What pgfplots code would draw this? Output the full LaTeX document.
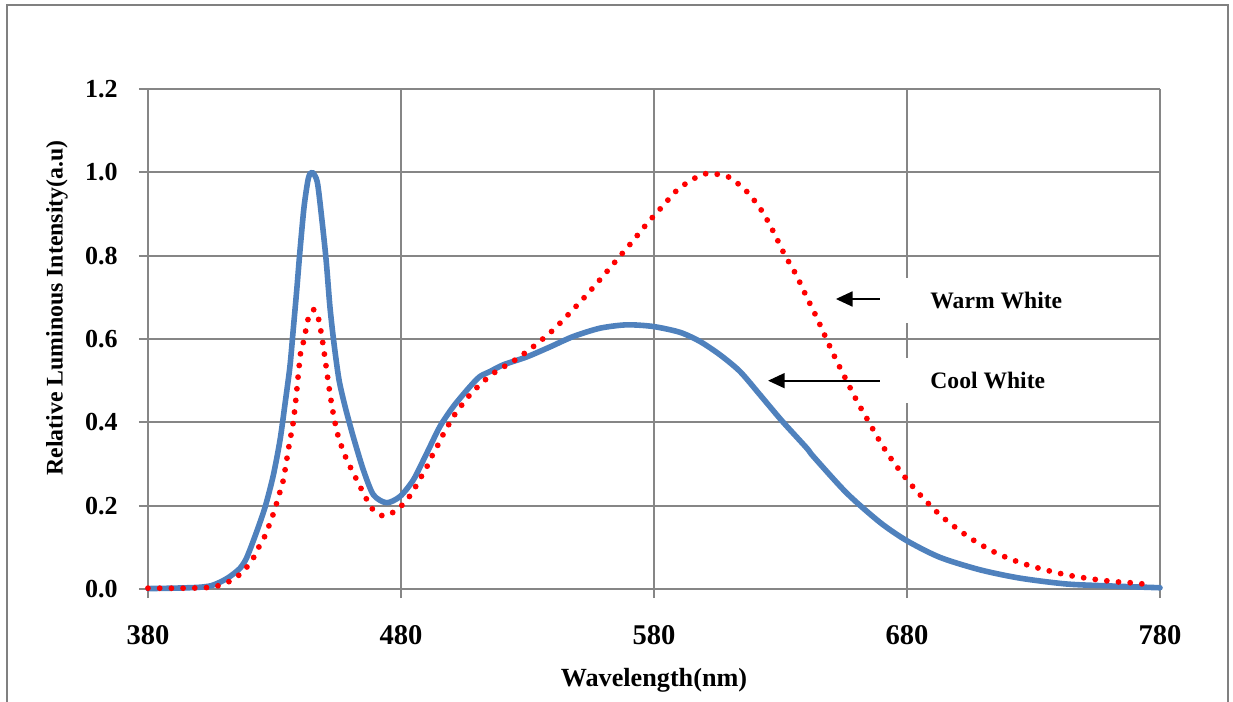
\documentclass[border=0pt]{standalone}
\usepackage{fontspec}
\setmainfont{Liberation Serif}
\usepackage{pgfplots}
\pgfplotsset{compat=1.18}
\usetikzlibrary{arrows.meta}

\definecolor{coolblue}{RGB}{79,129,189}
\definecolor{warmred}{RGB}{255,0,0}
\definecolor{gridgray}{RGB}{134,134,134}
\definecolor{framegray}{RGB}{128,128,128}

\begin{document}
\begin{tikzpicture}
% page = 1233 x 702 px at 0.5pt per px, origin at the plot's lower left corner
\useasboundingbox (-74pt,-56.5pt) rectangle (542.5pt,294.5pt);
\draw[framegray, line width=1pt] (-70.5pt,-80pt) -- (-70.5pt,292pt) -- (540pt,292pt) -- (540pt,-80pt);
\begin{axis}[
    at={(0,0)}, anchor=south west,
    scale only axis,
    width=506pt, height=250pt,
    xmin=380, xmax=780, ymin=0, ymax=1.2,
    xtick={380,480,580,680,780},
    ytick={0,0.2,0.4,0.6,0.8,1.0,1.2},
    axis lines*=left,
    axis line style={draw=gridgray, line width=0.9pt},
    grid=major,
    major grid style={draw=gridgray, line width=0.9pt},
    tick align=outside,
    major tick length=4.5pt,
    tick style={draw=gridgray, line width=0.9pt},
    /pgf/number format/assume math mode=true,
    x tick label style={font=\bfseries\fontsize{14.3}{16}\selectfont, anchor=north, inner sep=0pt, yshift=-13.5pt,
        /pgf/number format/1000 sep={}},
    y tick label style={font=\bfseries\fontsize{13}{15}\selectfont, anchor=east, inner sep=0pt, xshift=-10.5pt},
    yticklabel={\pgfmathprintnumber[fixed,fixed zerofill,precision=1]{\tick}},
    xlabel={Wavelength(nm)},
    xlabel style={font=\bfseries\fontsize{13.1}{15}\selectfont, at={(axis description cs:0.5,-0.182)}, anchor=center},
    ylabel={Relative Luminous Intensity(a.u)},
    ylabel style={font=\bfseries\fontsize{11.9}{14}\selectfont, at={(axis description cs:-0.0899,0.562)}, anchor=center, rotate=0},
    clip=false,
]
% white boxes behind the two notes
\fill[white] (axis cs:679.2,0.638) rectangle (axis cs:748.4,0.746);
\fill[white] (axis cs:679.2,0.446) rectangle (axis cs:748.4,0.554);

% Cool White
\addplot[coolblue, line width=2.8pt, line join=round, line cap=round, smooth, tension=0.45] coordinates {
 (380,0.001) (390,0.002) (400,0.004) (405,0.008) (409,0.018) (412.4,0.03)
 (416.4,0.05) (419,0.075) (422.5,0.13) (426.2,0.195) (429.5,0.272) (432.2,0.358)
 (434.2,0.446) (436.1,0.534) (437.4,0.622) (438.8,0.718) (440.1,0.814) (441.7,0.918)
 (443.4,0.986) (444.9,1.0) (446.9,0.977) (448.6,0.894) (450.4,0.79) (451.9,0.678)
 (453.5,0.59) (455.5,0.502) (457.9,0.438) (461.1,0.366) (465.1,0.286) (469.1,0.226)
 (474.3,0.207) (479.6,0.222) (484.9,0.262) (490.2,0.326) (495.4,0.39) (500.7,0.438)
 (507.3,0.486) (511.2,0.51) (515.2,0.522) (520.4,0.538) (529.7,0.557) (538.9,0.581)
 (548.1,0.606) (558.7,0.626) (569.2,0.634) (579.7,0.63) (590.3,0.616) (598.2,0.594)
 (606.1,0.562) (614,0.522) (621.9,0.466) (630.5,0.404) (640.4,0.338) (643,0.318)
 (656.2,0.23) (669.3,0.16) (679.9,0.116) (693,0.076) (708.9,0.046) (724.7,0.026)
 (743.1,0.012) (761.5,0.007) (780,0.003)
};

% Warm White
\addplot[warmred, line width=2.9pt, line cap=round, dash pattern=on 0pt off 5.85pt, smooth, tension=0.45] coordinates {
 (380,0.002) (395,0.002) (405,0.004) (407.8,0.008) (412.1,0.018) (416.1,0.034)
 (419.4,0.055) (422,0.078) (424,0.103) (426.2,0.127) (428,0.155) (429.5,0.18)
 (430.9,0.207) (432.2,0.234) (433.5,0.262) (435.8,0.346) (437.4,0.40) (438.5,0.458)
 (439.4,0.514) (440.4,0.57) (441.8,0.6) (442.5,0.626) (443.6,0.654) (445.7,0.671)
 (447.5,0.646) (449.1,0.59) (450.4,0.534) (451.7,0.478) (453.2,0.422) (455.2,0.366)
 (458.3,0.314) (462.5,0.262) (466.7,0.212) (469.3,0.188) (473.3,0.175) (477.4,0.186)
 (480.9,0.204) (483.8,0.226) (486.2,0.25) (488.6,0.276) (490.8,0.30) (492.8,0.326)
 (495,0.35) (497,0.375) (499.4,0.40) (501.7,0.423) (504.6,0.446) (507.5,0.468)
 (510.8,0.488) (514.1,0.506) (517.8,0.523) (525.7,0.552) (533.2,0.586) (540.2,0.622)
 (546.8,0.663) (553.1,0.704) (559.3,0.747) (565.3,0.79) (571.2,0.832) (577.1,0.876)
 (583.3,0.918) (589.6,0.96) (597.3,0.99) (601.7,0.998) (606.1,0.994) (610.4,0.986)
 (617.3,0.95) (623,0.904) (627.4,0.855) (631.5,0.804) (636.1,0.755) (640.1,0.704)
 (644.2,0.653) (648,0.602) (651.9,0.551) (656.2,0.499) (660.4,0.449) (665,0.40)
 (669.6,0.351) (674.6,0.305) (680.3,0.26) (686.4,0.218) (693,0.178) (700.4,0.142)
 (707.9,0.111) (716.1,0.084) (724.9,0.063) (733.9,0.047) (743,0.034) (752,0.025)
 (761.3,0.018) (770.5,0.014) (776,0.010)
};

% notes with arrows
\draw[black, line width=0.9pt, -{Triangle[length=8.3pt,width=7.5pt]}] (axis cs:669.3,0.696) -- (axis cs:651.9,0.696);
\draw[black, line width=0.9pt, -{Triangle[length=8.3pt,width=7.5pt]}] (axis cs:669.3,0.500) -- (axis cs:625.1,0.500);
\node[anchor=west, inner sep=0pt, font=\bfseries\fontsize{11.8}{14}\selectfont] at (axis cs:689.1,0.692) {Warm White};
\node[anchor=west, inner sep=0pt, font=\bfseries\fontsize{11.8}{14}\selectfont] at (axis cs:689.1,0.500) {Cool White};
\end{axis}
\end{tikzpicture}
\end{document}
